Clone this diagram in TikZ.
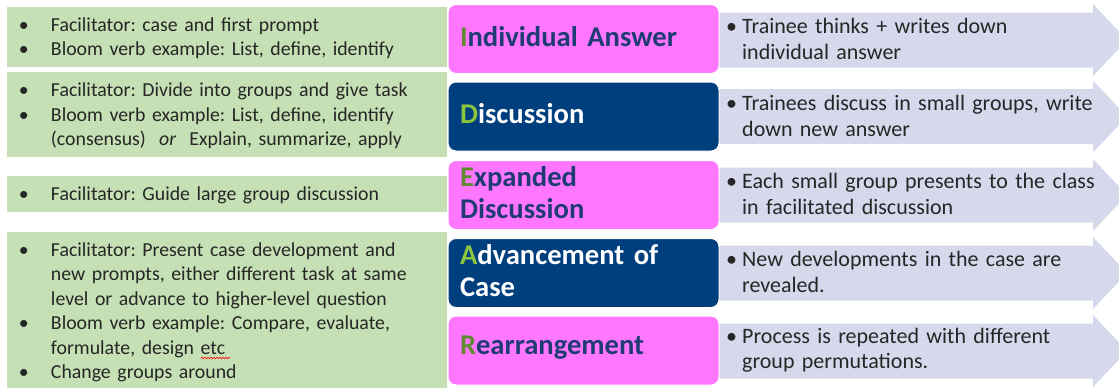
\documentclass[tikz,border=0pt]{standalone}
\usepackage{fontspec}
\setmainfont{Carlito}
\usetikzlibrary{decorations.pathmorphing}

\definecolor{stagepink}{HTML}{FF77FF}
\definecolor{stageblue}{HTML}{003F7E}
\definecolor{notegreen}{HTML}{C5E0B4}
\definecolor{arrowgray}{HTML}{D5D9EB}
\definecolor{headnavy}{HTML}{1F3B73}
\definecolor{initolive}{HTML}{5F8A32}
\definecolor{initlime}{HTML}{8CC63F}
\definecolor{bodytext}{HTML}{262626}

\frenchspacing
\newcommand{\leftitem}{\par\noindent\hangindent=32pt\hangafter=1\makebox[32pt][l]{\textbullet}}
\newcommand{\rightitem}{\par\noindent\hangindent=16pt\hangafter=1\makebox[16pt][l]{\textbullet}}
\newcommand{\noteend}{\par\kern8pt\relax}
\newcommand{\stageend}{\par\kern5pt\relax}

\begin{document}
\begin{tikzpicture}[x=1pt,y=-1pt,
	note/.style={fill=notegreen,minimum width=440pt,text width=416pt,inner xsep=12pt,inner ysep=0pt,
		text=bodytext,font=\fontsize{19.8}{24.4}\selectfont},
	stage/.style={rounded corners=8pt,draw=white,line width=1pt,minimum width=271pt,minimum height=69pt,
		text width=247pt,inner xsep=12pt,align=left,font=\fontsize{28.6}{32}\selectfont\bfseries},
	pinkstage/.style={stage,fill=stagepink,text=headnavy},
	bluestage/.style={stage,fill=stageblue,text=white},
	task/.style={anchor=west,text width=376pt,inner sep=0pt,text=bodytext,font=\fontsize{22}{25.7}\selectfont}]
	\useasboundingbox (0,0) rectangle (1119,388);
	\clip (0,0) rectangle (1119,388);

	\node[note,minimum height=60pt] (g1) at (227,37) {\leftitem Facilitator: case and first prompt
		\leftitem Bloom verb example: List, define, identify\noteend};
	\node[note,minimum height=85pt] (g2) at (227,114.5) {\leftitem Facilitator: Divide into groups and give task
		\leftitem Bloom verb example: List, define, identify\newline (consensus)\ \ \textit{or}\ \ Explain, summarize, apply\noteend};
	\node[note,minimum height=36pt] (g3) at (227,194) {\leftitem Facilitator: Guide large group discussion\noteend};
	\node[note,minimum height=158pt] (g4) at (227,311) {\leftitem Facilitator: Present case development and\newline new prompts, either different task at same\newline level or advance to higher-level question
		\leftitem Bloom verb example: Compare, evaluate,\newline formulate, design etc
		\leftitem Change groups around\noteend};
	\draw[red,line width=0.6pt,decorate,decoration={snake,amplitude=0.8pt,segment length=3pt}] (201,358) -- (230,358);

	\foreach \y in {40,116.5,195,273,351}
		\fill[arrowgray] (712,\y-27.5) -- (1093,\y-27.5) -- (1093,\y-36) -- (1127,\y) -- (1093,\y+36) -- (1093,\y+27.5) -- (712,\y+27.5) -- cycle;

	\node[pinkstage] (s1) at (583.5,39) {\textcolor{initolive}{I}ndividual Answer\stageend};
	\node[bluestage] (s2) at (583.5,116.5) {\textcolor{initlime}{D}iscussion\stageend};
	\node[pinkstage] (s3) at (583.5,195) {\textcolor{initolive}{E}xpanded\\Discussion\stageend};
	\node[bluestage] (s4) at (583.5,273) {\textcolor{initlime}{A}dvancement of\\Case\stageend};
	\node[pinkstage] (s5) at (583.5,350.5) {\textcolor{initolive}{R}earrangement\stageend};

	\node[task] (r1) at (726,34) {\rightitem Trainee thinks + writes down\newline individual answer\par};
	\node[task] (r2) at (726,110.5) {\rightitem Trainees discuss in small groups, write\newline down new answer\par};
	\node[task] (r3) at (726,189) {\rightitem Each small group presents to the class\newline in facilitated discussion\par};
	\node[task] (r4) at (726,267) {\rightitem New developments in the case are\newline revealed.\par};
	\node[task] (r5) at (726,345) {\rightitem Process is repeated with different\newline group permutations.\par};
\end{tikzpicture}
\end{document}
